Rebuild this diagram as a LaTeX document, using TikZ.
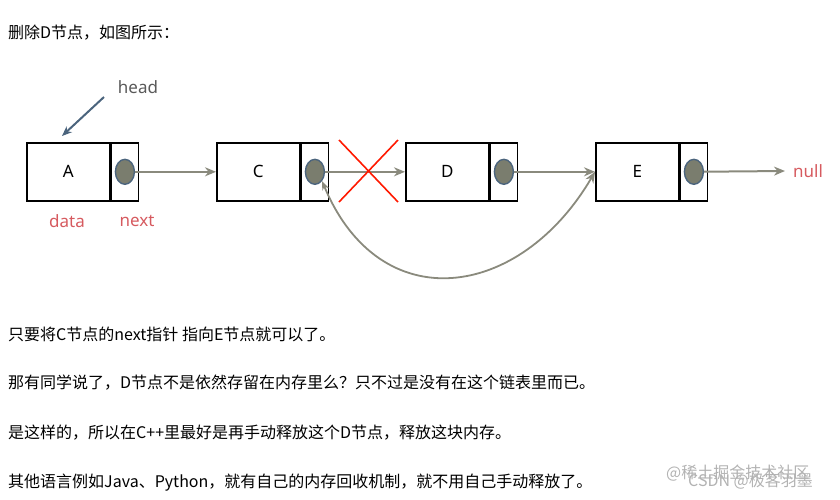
\documentclass[tikz,border=0pt]{standalone}
\usepackage{fontspec}
\setmainfont{Noto Sans}
\newfontfamily\cjk{Noto Sans CJK SC}
\usetikzlibrary{positioning,arrows.meta,shapes.geometric}
\definecolor{linkgray}{RGB}{138,138,125}
\definecolor{dotfill}{RGB}{122,125,110}
\definecolor{dotedge}{RGB}{75,100,125}
\definecolor{labelred}{RGB}{214,90,95}
\begin{document}
\begin{tikzpicture}[x=1pt,y=-1pt,
  cell/.style={draw,line width=1.6pt,minimum width=83pt,minimum height=58pt,inner sep=0,font=\fontsize{17}{18}\selectfont},
  nextcell/.style={draw,line width=1.6pt,minimum width=27pt,minimum height=58pt,inner sep=0},
  dot/.style={ellipse,draw=dotedge,line width=1.4pt,fill=dotfill,minimum width=19pt,minimum height=25pt,inner sep=0},
  link/.style={line width=2pt,linkgray,-{Stealth[length=11pt,width=9pt]}},
  txt/.style={anchor=west,font=\cjk\fontsize{16}{18}\selectfont,inner sep=0}]
\useasboundingbox (0,0) rectangle (840,499);
% nodes of the list
\foreach \name/\lbl/\x in {A/A/26, C/C/216, D/D/405, E/E/595}{
  \node (\name) [cell,anchor=north west] at (\x,142) {\lbl};
  \node (\name n) [nextcell,right=0pt of \name] {};
  \node (\name dot) [dot] at (\name n) {};
}
\coordinate (nullend) at (785,171);
\node (null) [right=8pt of nullend,inner sep=0,text=labelred,font=\fontsize{17}{18}\selectfont] {null};
% links
\draw [link] (Adot) -- (C);
\draw [link] (Cdot) -- (D);
\draw [link] (Ddot) -- (E);
\draw [link] (Edot) -- (nullend);
\draw [line width=1.8pt,linkgray,{Stealth[length=9pt,width=7pt]}-{Stealth[length=11pt,width=9pt]}] (Cdot.south east) .. controls (380,320) and (520,300) .. (E.west);
% cross
\draw [line width=1.6pt,red!80!orange] (339,140) -- (398,202) (398,140) -- (339,202);
% labels
\node (head) [inner sep=0,text=black!65,font=\fontsize{17}{18}\selectfont] at (138,87) {head};
\coordinate (headend) at (62,136);
\draw [line width=2pt,dotedge,-{Stealth[length=10pt,width=8pt]}] (104,97) -- (headend);
\node (data) [inner sep=0,text=labelred,font=\fontsize{17}{18}\selectfont] at (67,221) {data};
\node (next) [inner sep=0,text=labelred,font=\fontsize{17}{18}\selectfont] at (137,221) {next};
% text lines
\node (t0) [txt] at (8,33) {删除D节点，如图所示：};
\node (t1) [txt] at (8,334) {只要将C节点的next指针 指向E节点就可以了。};
\node (t2) [txt] at (8,383) {那有同学说了，D节点不是依然存留在内存里么？只不过是没有在这个链表里而已。};
\node (t3) [txt] at (8,433) {是这样的，所以在C++里最好是再手动释放这个D节点，释放这块内存。};
\node (t4) [txt] at (8,483) {其他语言例如Java、Python，就有自己的内存回收机制，就不用自己手动释放了。};
\node (wm1) [txt,text=black!30] at (666,473) {@稀土掘金技术社区};
\node (wm2) [txt,text=black!30] at (688,481) {CSDN @极客羽墨};
\end{tikzpicture}
\end{document}
